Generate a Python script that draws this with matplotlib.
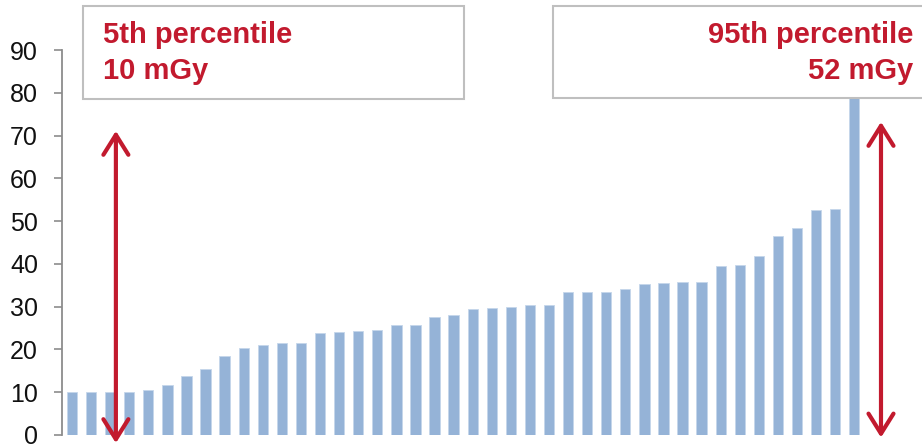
import matplotlib
matplotlib.use("Agg")
import matplotlib.pyplot as plt
from matplotlib.patches import Rectangle

# ---- data ----
doses = [10.1, 10.1, 10.1, 10.1, 10.5, 11.7, 13.8, 15.4, 18.4, 20.4,
         21.1, 21.4, 21.6, 23.8, 24.1, 24.3, 24.5, 25.6, 25.7, 27.7,
         28.0, 29.4, 29.8, 30.0, 30.4, 30.5, 33.4, 33.4, 33.5, 34.2,
         35.3, 35.5, 35.8, 35.8, 39.6, 39.7, 41.8, 46.6, 48.4, 52.5,
         52.8, 85.0]
yticks = [0, 10, 20, 30, 40, 50, 60, 70, 80, 90]
label_p5 = ["5th percentile", "10 mGy"]
label_p95 = ["95th percentile", "52 mGy"]

BAR = "#95B3D7"
RED = "#C21A2E"
GRAY = "#8C8C8C"

W, H = 922, 445
fig = plt.figure(figsize=(W / 100, H / 100), dpi=100)
plt.rcParams['font.family'] = ['Liberation Sans', 'DejaVu Sans']

ax_left, ax_bottom, ax_top = 61.7, 435, 50
ax = fig.add_axes([ax_left / W, (H - ax_bottom) / H, (W - ax_left) / W, (ax_bottom - ax_top) / H])

xs = list(range(len(doses)))
ax.bar(xs, doses, width=0.54, color=BAR, edgecolor="#C5D6EA", linewidth=0.6, zorder=2)

step = 19.08
ax.set_xlim(-0.54, -0.54 + (W - ax_left) / step)
ax.set_ylim(0, 90)
ax.set_yticks(yticks)
ax.set_xticks([])
for s in ["top", "right", "bottom"]:
    ax.spines[s].set_visible(False)
ax.spines["left"].set_color(GRAY)
ax.spines["left"].set_linewidth(1.3)
ax.tick_params(axis="y", direction="out", length=6, width=1.2, color=GRAY,
               labelsize=18, labelcolor="#111111", pad=11)

# arrows
astyle = "<->,head_length=0.72,head_width=0.45"
ax.annotate("", xy=(2.3, 71.1), xytext=(2.3, -1.9),
            arrowprops=dict(arrowstyle=astyle, color=RED, lw=3.0, mutation_scale=20,
                            shrinkA=0, shrinkB=0),
            annotation_clip=False, zorder=4)
ax.annotate("", xy=(42.4, 73.2), xytext=(42.4, -0.6),
            arrowprops=dict(arrowstyle=astyle, color=RED, lw=3.0, mutation_scale=20,
                            shrinkA=0, shrinkB=0),
            annotation_clip=False, zorder=4)

# boxes (figure coords)
def px(x, y):
    return x / W, 1 - y / H

x0, y0 = px(83, 99)
x1, y1 = px(464, 6)
fig.patches.append(Rectangle((x0, y0), x1 - x0, y1 - y0, transform=fig.transFigure,
                             facecolor="white", edgecolor="#BFBFBF", linewidth=1.5, zorder=5))
x0, y0 = px(553, 98)
x1, y1 = px(935, 6)
fig.patches.append(Rectangle((x0, y0), x1 - x0, y1 - y0, transform=fig.transFigure,
                             facecolor="white", edgecolor="#BFBFBF", linewidth=1.5, zorder=5))

FS = 21
for txt, yy in zip(label_p5, [43, 79]):
    tx, ty = px(103, yy)
    fig.text(tx, ty, txt, color=RED, fontsize=FS, fontweight="bold",
             ha="left", va="baseline", zorder=6)
for txt, yy in zip(label_p95, [43, 79]):
    tx, ty = px(913, yy)
    fig.text(tx, ty, txt, color=RED, fontsize=FS, fontweight="bold",
             ha="right", va="baseline", zorder=6)

fig.savefig("out.png", dpi=100)
